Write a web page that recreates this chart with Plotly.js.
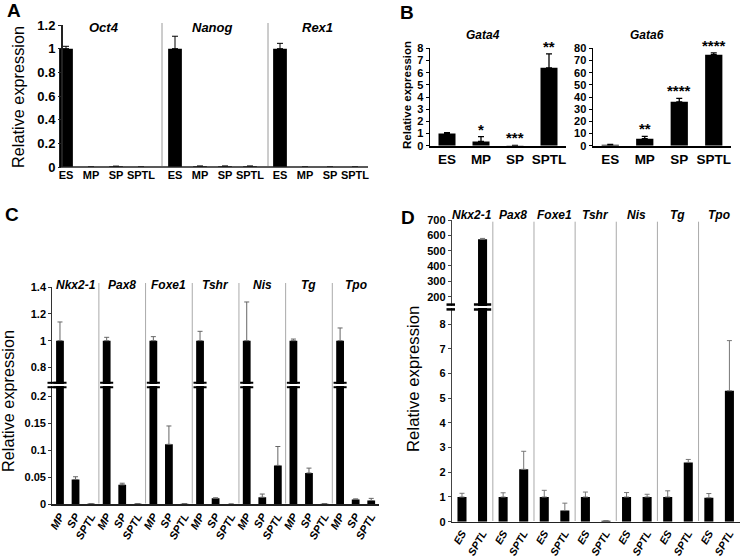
<!DOCTYPE html>
<html>
<head>
<meta charset="utf-8">
<script src="https://cdn.plot.ly/plotly-3.0.1.min.js"></script>
<style>html,body{margin:0;padding:0;background:#fff;}#chart{width:741px;height:556px;}</style>
</head>
<body>
<div id="chart"></div>
<script>
// ---------- DATA ----------
// Panel A
const aGenes = ['Oct4', 'Nanog', 'Rex1'];
const aCats = ['ES', 'MP', 'SP', 'SPTL'];
const aOct4 = [1.0, 0, 0.006, 0];
const aNanog = [1.0, 0.007, 0.007, 0.007];
const aRex1 = [1.0, 0, 0, 0];
const aOct4Err = [0.02, 0, 0, 0];
const aNanogErr = [0.105, 0, 0, 0];
const aRex1Err = [0.045, 0, 0, 0];

// Panel B
const bCats = ['ES', 'MP', 'SP', 'SPTL'];
const bGata4 = [1.0, 0.35, 0.02, 6.4];
const bGata4Err = [0.08, 0.4, 0, 1.15];
const bGata4Sig = ['', '*', '***', '**'];
const bGata6 = [0.7, 5.8, 36, 74.8];
const bGata6Err = [0.3, 1.8, 2.8, 1.5];
const bGata6Sig = ['', '**', '****', '****'];

// Panel C
const cGenes = ['Nkx2-1', 'Pax8', 'Foxe1', 'Tshr', 'Nis', 'Tg', 'Tpo'];
const cCats = ['MP', 'SP', 'SPTL'];
const cMeans = [[1, 0.046, 0.001], [1, 0.036, 0.001], [1, 0.111, 0.001], [1, 0.011, 0.0005],
                [1, 0.013, 0.072], [1, 0.058, 0.001], [1, 0.009, 0.007]];
const cErrs = [[0.14, 0.005, 0], [0.025, 0.003, 0], [0.03, 0.034, 0], [0.07, 0.001, 0],
               [0.29, 0.006, 0.035], [0.012, 0.009, 0], [0.095, 0.001, 0.004]];
const cLowTicks = [0, 0.05, 0.1, 0.15, 0.2];
const cHighTicks = [0.8, 1, 1.2, 1.4];

// Panel D
const dGenes = ['Nkx2-1', 'Pax8', 'Foxe1', 'Tshr', 'Nis', 'Tg', 'Tpo'];
const dCats = ['ES', 'SPTL'];
const dMeans = [[1, 575], [1, 2.12], [1, 0.45], [1, 0.04], [1, 1.0], [1, 2.4], [0.97, 5.3]];
const dErrs = [[0.15, 5], [0.17, 0.73], [0.27, 0.3], [0.2, 0], [0.18, 0.11], [0.25, 0.12], [0.17, 2.03]];
const dLowTicks = [0, 1, 2, 3, 4, 5, 6, 7, 8];
const dHighTicks = [200, 300, 400, 500, 600, 700];

// ---------- LAYOUT HELPERS ----------
const W = 741, H = 556;
const X = p => p / W;
const Y = p => 1 - p / H;
const FONT = 'Arial, "Liberation Sans", sans-serif';
const zeros = n => new Array(n).fill(0);

const traces = [];
const annotations = [];
const shapes = [];

function bar(x, y, err, xa, ya, width, errColor, thick, capw) {
  return {
    type: 'bar', x: x, y: y, xaxis: xa, yaxis: ya, width: width,
    marker: {color: '#000', line: {width: 0}},
    error_y: {type: 'data', symmetric: false, array: err, arrayminus: zeros(err.length),
              color: errColor, thickness: thick, width: capw},
    hoverinfo: 'x+y'
  };
}

// ---------- PANEL A ----------
const aValues = [aOct4, aNanog, aRex1];
const aErrors = [aOct4Err, aNanogErr, aRex1Err];
const aDomains = [[53.5, 153.5], [162.5, 262.5], [267.5, 367.5]];
const layout = {
  width: W, height: H, margin: {l: 0, r: 0, t: 0, b: 0},
  paper_bgcolor: '#fff', plot_bgcolor: 'rgba(0,0,0,0)',
  showlegend: false, bargap: 0.4,
  font: {family: FONT, color: '#000'}
};
aGenes.forEach((g, i) => {
  const xa = i === 0 ? 'x' : 'x' + (i + 1);
  const key = i === 0 ? 'xaxis' : 'xaxis' + (i + 1);
  traces.push(bar(aCats, aValues[i], aErrors[i], xa, 'y', 0.55, '#000', 1, 3));
  layout[key] = {
    domain: [X(aDomains[i][0]), X(aDomains[i][1])], anchor: 'y', type: 'category',
    range: [-0.5, 3.5], showgrid: false, zeroline: false, showline: false, ticks: '', tickangle: 0,
    tickfont: {family: FONT, size: 11, weight: 'bold'}, fixedrange: true
  };
  annotations.push({xref: xa, yref: 'paper', x: 1.5, y: Y(27), text: g, showarrow: false,
    font: {family: FONT, size: 13, weight: 'bold', style: 'italic'}, xanchor: 'center', yanchor: 'middle'});
});
layout.yaxis = {
  domain: [Y(167), Y(25)], range: [0, 1.2], dtick: 0.2, anchor: 'free', position: X(61),
  showgrid: false, zeroline: false, showline: true, linecolor: '#222', linewidth: 1.5,
  ticks: 'outside', ticklen: 3, tickcolor: '#222', tickfont: {family: FONT, size: 13, weight: 'bold'}
};
shapes.push({type: 'line', xref: 'paper', yref: 'paper', x0: X(61), x1: X(368), y0: Y(167), y1: Y(167),
  line: {color: '#222', width: 1.5}});
[162, 268].forEach(px => shapes.push({type: 'line', xref: 'paper', yref: 'paper', x0: X(px), x1: X(px),
  y0: Y(166), y1: Y(23), line: {color: '#9a9a9a', width: 1}}));
annotations.push({xref: 'paper', yref: 'paper', x: X(18), y: Y(97), text: 'Relative expression',
  textangle: -90, showarrow: false, font: {family: FONT, size: 16.3}, xanchor: 'center', yanchor: 'middle'});

// ---------- PANEL B ----------
const bSets = [
  {vals: bGata4, err: bGata4Err, sig: bGata4Sig, name: 'Gata4', xa: 'x4', ya: 'y2', dom: [430, 566], range: [0, 8], dtick: 1, labelX: 483},
  {vals: bGata6, err: bGata6Err, sig: bGata6Sig, name: 'Gata6', xa: 'x5', ya: 'y3', dom: [593, 731], range: [0, 80], dtick: 10, labelX: 647}
];
bSets.forEach(s => {
  traces.push(bar(bCats, s.vals, s.err, s.xa, s.ya, 0.5, '#000', 1.3, 3));
  layout['xaxis' + s.xa.slice(1)] = {
    domain: [X(s.dom[0]), X(s.dom[1])], anchor: s.ya, type: 'category', range: [-0.5, 3.5],
    showgrid: false, zeroline: false, showline: true, linecolor: '#000', linewidth: 2, ticks: '', tickangle: 0,
    tickfont: {family: FONT, size: 13.5, weight: 'bold'}
  };
  layout['yaxis' + s.ya.slice(1)] = {
    domain: [Y(145.7), Y(48.3)], anchor: s.xa, range: s.range, dtick: s.dtick,
    showgrid: false, zeroline: false, showline: true, linecolor: '#000', linewidth: 1.5,
    ticks: 'outside', ticklen: 3, tickcolor: '#000', tickfont: {family: FONT, size: 11, weight: 'bold'}
  };
  annotations.push({xref: 'paper', yref: 'paper', x: X(s.labelX), y: Y(35), text: s.name, showarrow: false,
    font: {family: FONT, size: 12, weight: 'bold', style: 'italic'}, xanchor: 'center', yanchor: 'middle'});
  s.sig.forEach((t, i) => {
    if (!t) return;
    annotations.push({xref: s.xa, yref: s.ya, x: bCats[i], y: s.vals[i] + s.err[i], text: t, showarrow: false,
      yanchor: 'bottom', xanchor: 'center', yshift: -3, font: {family: FONT, size: 15, weight: 'bold'}});
  });
});
annotations.push({xref: 'paper', yref: 'paper', x: X(407), y: Y(95), text: 'Relative expression',
  textangle: -90, showarrow: false, font: {family: FONT, size: 11.5, weight: 'bold'}, xanchor: 'center', yanchor: 'middle'});

// ---------- PANEL C ----------
const cX = [], cY = [], cE = [], cText = [];
cGenes.forEach((g, gi) => cCats.forEach((c, ci) => {
  cX.push(g + '|' + c); cY.push(cMeans[gi][ci]); cE.push(cErrs[gi][ci]); cText.push(c);
}));
traces.push(bar(cX, cY, cE, 'x6', 'y4', 0.5, '#666', 1, 2.5));
traces.push(bar(cX, cY, cE, 'x6', 'y5', 0.5, '#666', 1, 2.5));
layout.xaxis6 = {
  domain: [X(52.2), X(379)], anchor: 'y4', type: 'category', range: [-0.5, cX.length - 0.5],
  tickvals: cX, ticktext: cText, tickangle: -60,
  showgrid: false, zeroline: false, showline: true, linecolor: '#222', linewidth: 1.5, ticks: '',
  tickfont: {family: FONT, size: 11, weight: 'bold', style: 'italic'}
};
layout.yaxis4 = {
  domain: [Y(504.3), Y(386)], anchor: 'x6', range: [0, 0.219], tickvals: cLowTicks,
  ticktext: cLowTicks.map(String),
  showgrid: false, zeroline: false, showline: true, linecolor: '#333', linewidth: 1,
  ticks: 'outside', ticklen: 3, tickcolor: '#333', tickfont: {family: FONT, size: 11, weight: 'bold'}
};
layout.yaxis5 = {
  domain: [Y(384), Y(287.3)], anchor: 'x6', range: [0.675, 1.4], tickvals: cHighTicks,
  ticktext: cHighTicks.map(String),
  showgrid: false, zeroline: false, showline: true, linecolor: '#333', linewidth: 1,
  ticks: 'outside', ticklen: 3, tickcolor: '#333', tickfont: {family: FONT, size: 11, weight: 'bold'}
};
cGenes.forEach((g, gi) => {
  annotations.push({xref: 'x6', yref: 'paper', x: gi * cCats.length + 1, y: Y(285), text: g, showarrow: false,
    font: {family: FONT, size: 12, weight: 'bold', style: 'italic'}, xanchor: 'center', yanchor: 'middle'});
  if (gi > 0) shapes.push({type: 'line', xref: 'x6', yref: 'paper', x0: gi * cCats.length - 0.5, x1: gi * cCats.length - 0.5,
    y0: Y(503.5), y1: Y(283), line: {color: '#aaa', width: 1}});
  // break marks on the MP bar
  [382.8, 387.2].forEach(py => shapes.push({type: 'line', xref: 'x6', yref: 'paper',
    x0: gi * cCats.length - 0.42, x1: gi * cCats.length + 0.42, y0: Y(py), y1: Y(py), line: {color: '#000', width: 2}}));
});
[382.8, 387.2].forEach(py => shapes.push({type: 'line', xref: 'paper', yref: 'paper',
  x0: X(47.5), x1: X(57), y0: Y(py), y1: Y(py), line: {color: '#000', width: 2}}));
annotations.push({xref: 'paper', yref: 'paper', x: X(8), y: Y(401), text: 'Relative expression',
  textangle: -90, showarrow: false, font: {family: FONT, size: 16.3}, xanchor: 'center', yanchor: 'middle'});

// ---------- PANEL D ----------
const dX = [], dY = [], dE = [], dText = [];
dGenes.forEach((g, gi) => dCats.forEach((c, ci) => {
  dX.push(g + '|' + c); dY.push(dMeans[gi][ci]); dE.push(dErrs[gi][ci]); dText.push(c);
}));
traces.push(bar(dX, dY, dE, 'x7', 'y6', 0.44, '#777', 1, 2.5));
traces.push(bar(dX, dY, dE, 'x7', 'y7', 0.44, '#777', 1, 2.5));
layout.xaxis7 = {
  domain: [X(451.7), X(739.7)], anchor: 'y6', type: 'category', range: [-0.5, dX.length - 0.5],
  tickvals: dX, ticktext: dText, tickangle: -60,
  showgrid: false, zeroline: false, showline: true, linecolor: '#222', linewidth: 1.5, ticks: '',
  tickfont: {family: FONT, size: 10.5, weight: 'bold', style: 'italic'}
};
layout.yaxis6 = {
  domain: [Y(521.7), Y(308)], anchor: 'x7', range: [0, 8.65], tickvals: dLowTicks,
  showgrid: false, zeroline: false, showline: true, linecolor: '#444', linewidth: 1,
  ticks: 'outside', ticklen: 3, tickcolor: '#444', tickfont: {family: FONT, size: 11, weight: 'bold'}
};
layout.yaxis7 = {
  domain: [Y(306), Y(220)], anchor: 'x7', range: [139, 700], tickvals: dHighTicks,
  showgrid: false, zeroline: false, showline: true, linecolor: '#444', linewidth: 1,
  ticks: 'outside', ticklen: 3, tickcolor: '#444', tickfont: {family: FONT, size: 11, weight: 'bold'}
};
dGenes.forEach((g, gi) => {
  annotations.push({xref: 'x7', yref: 'paper', x: gi * dCats.length + 0.5, y: Y(215), text: g, showarrow: false,
    font: {family: FONT, size: 12, weight: 'bold', style: 'italic'}, xanchor: 'center', yanchor: 'middle'});
  if (gi > 0) shapes.push({type: 'line', xref: 'x7', yref: 'paper', x0: gi * dCats.length - 0.5, x1: gi * dCats.length - 0.5,
    y0: Y(521), y1: Y(221.7), line: {color: '#aaa', width: 1}});
});
// break marks: on the bar that crosses the break (Nkx2-1 SPTL) and on the axis
[304.6, 309.4].forEach(py => {
  shapes.push({type: 'line', xref: 'x7', yref: 'paper', x0: 1 - 0.42, x1: 1 + 0.42, y0: Y(py), y1: Y(py),
    line: {color: '#000', width: 2.5}});
  shapes.push({type: 'line', xref: 'paper', yref: 'paper', x0: X(446.5), x1: X(455), y0: Y(py), y1: Y(py),
    line: {color: '#000', width: 2.5}});
});
annotations.push({xref: 'paper', yref: 'paper', x: X(413), y: Y(379), text: 'Relative expression',
  textangle: -90, showarrow: false, font: {family: FONT, size: 16.8}, xanchor: 'center', yanchor: 'middle'});

// ---------- PANEL LETTERS ----------
[['A', 14, 10], ['B', 407, 13], ['C', 12, 214], ['D', 408, 217]].forEach(([t, px, py]) =>
  annotations.push({xref: 'paper', yref: 'paper', x: X(px), y: Y(py), text: t, showarrow: false,
    font: {family: FONT, size: 19, weight: 'bold'}, xanchor: 'center', yanchor: 'middle'}));

layout.annotations = annotations;
layout.shapes = shapes;

Plotly.newPlot('chart', traces, layout, {staticPlot: true, displayModeBar: false});
</script>
</body>
</html>
